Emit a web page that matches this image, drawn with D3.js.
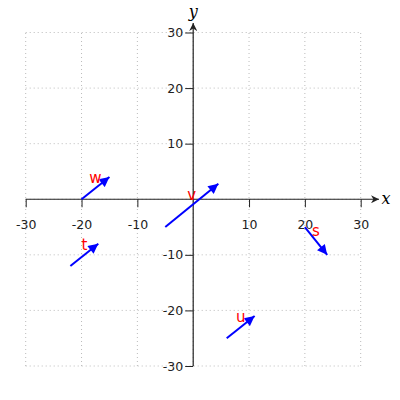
<!DOCTYPE html>
<html><head><meta charset="utf-8">
<script src="https://cdn.jsdelivr.net/npm/d3@7"></script>
<style>body{margin:0;background:#fff}</style>
</head><body>
<svg id="c" width="400" height="400"></svg>
<script>
const names = ["w","v","t","u","s"];
const startX = [-20,-5,-22,6,20];
const startY = [0,-5,-12,-25,-5];
const endX = [-15,4.5,-17,11,24];
const endY = [4,2.8,-8,-21,-10];
const tickValues = [-30,-20,-10,10,20,30];
const gridValues = [-30,-20,-10,0,10,20,30];

const svg = d3.select("#c");
const x = d3.scaleLinear().domain([-30,30]).range([25.7,360.7]);
const y = d3.scaleLinear().domain([-30,30]).range([366,32.5]);

const defs = svg.append("defs");
defs.append("marker").attr("id","ax").attr("viewBox","0 0 10 10").attr("refX",10).attr("refY",5)
  .attr("markerWidth",10).attr("markerHeight",8).attr("markerUnits","userSpaceOnUse").attr("orient","auto")
  .append("path").attr("d","M0,0 L10,5 L0,10 L3,5 Z").attr("fill","#222");
defs.append("marker").attr("id","vh").attr("viewBox","0 0 10 10").attr("refX",10).attr("refY",5)
  .attr("markerWidth",12).attr("markerHeight",10).attr("markerUnits","userSpaceOnUse").attr("orient","auto")
  .append("path").attr("d","M0,0 L10,5 L0,10 Z").attr("fill","#0000ff");

// grid
const g = svg.append("g");
gridValues.forEach(v=>{
  g.append("line").attr("x1",x(v)).attr("x2",x(v)).attr("y1",y(-30)).attr("y2",y(30))
   .attr("stroke","#bbb").attr("stroke-dasharray","1,3").attr("stroke-width",1);
  g.append("line").attr("y1",y(v)).attr("y2",y(v)).attr("x1",x(-30)).attr("x2",x(30))
   .attr("stroke","#bbb").attr("stroke-dasharray","1,3").attr("stroke-width",1);
});

// axes
svg.append("line").attr("x1",x(-30)).attr("x2",379).attr("y1",y(0)).attr("y2",y(0))
  .attr("stroke","#222").attr("stroke-width",1.2).attr("marker-end","url(#ax)");
svg.append("line").attr("x1",x(0)).attr("x2",x(0)).attr("y1",y(-30)).attr("y2",23)
  .attr("stroke","#222").attr("stroke-width",1.2).attr("marker-end","url(#ax)");

const fmt = d => String(d);
const xa = d3.axisBottom(x).tickValues(tickValues).tickSize(8).tickPadding(13).tickFormat(fmt);
const xg = svg.append("g").attr("transform",`translate(0,${y(0)})`).call(xa);
xg.select(".domain").remove();
const ya = d3.axisLeft(y).tickValues(tickValues).tickSize(8).tickPadding(2).tickFormat(fmt);
const yg = svg.append("g").attr("transform",`translate(${x(0)},0)`).call(ya);
yg.select(".domain").remove();
svg.selectAll(".tick text").attr("font-family","DejaVu Sans").attr("font-size",12.5).attr("fill","#222");
svg.selectAll(".tick line").attr("stroke","#222");

svg.append("text").attr("x",386).attr("y",y(0)+5).attr("text-anchor","middle")
  .attr("font-family","DejaVu Serif").attr("font-style","italic").attr("font-size",16).text("x");
svg.append("text").attr("x",x(0)).attr("y",17).attr("text-anchor","middle")
  .attr("font-family","DejaVu Serif").attr("font-style","italic").attr("font-size",16).text("y");

// vectors
names.forEach((n,i)=>{
  svg.append("line").attr("x1",x(startX[i])).attr("y1",y(startY[i]))
    .attr("x2",x(endX[i])).attr("y2",y(endY[i]))
    .attr("stroke","#0000ff").attr("stroke-width",2).attr("marker-end","url(#vh)");
  svg.append("text").attr("x",x((startX[i]+endX[i])/2)).attr("y",y((startY[i]+endY[i])/2)-5)
    .attr("text-anchor","middle").attr("fill","red").attr("font-family","DejaVu Sans").attr("font-size",15).text(n);
});
</script>
</body></html>
